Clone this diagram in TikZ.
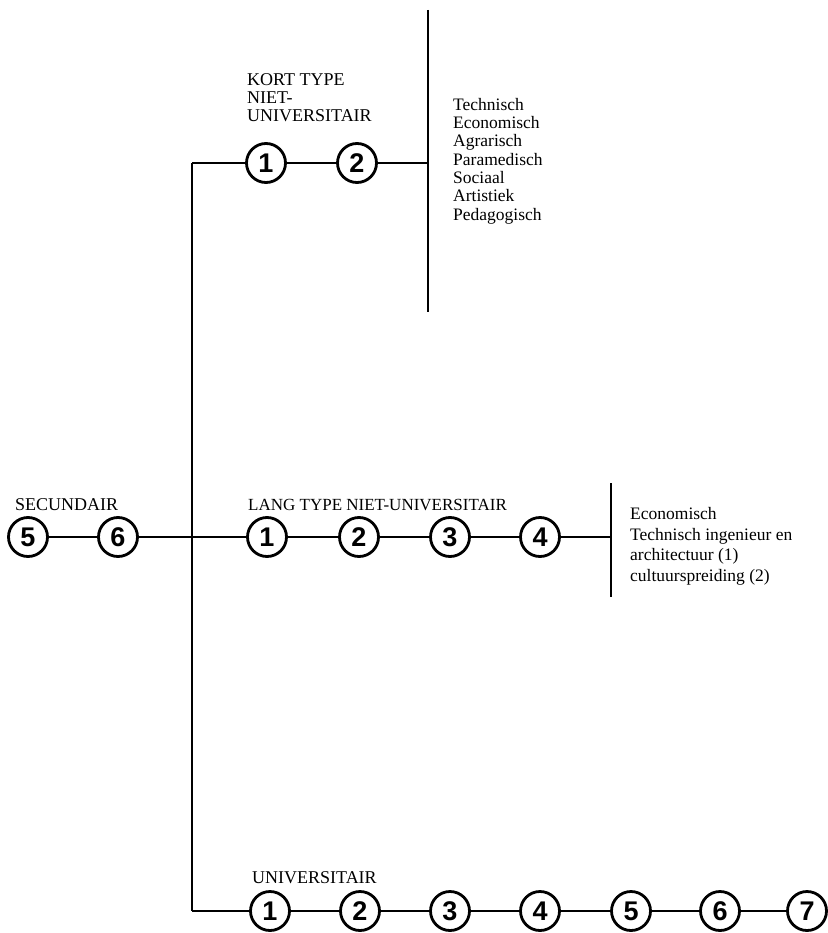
\documentclass[tikz,border=0pt]{standalone}
\usepackage{fontspec}
\setmainfont{Liberation Serif}
\newfontfamily\numfont{Liberation Sans}
\begin{document}
\begin{tikzpicture}[x=1pt,y=-1pt,
  num/.style={circle,draw,line width=2.8pt,minimum size=39pt,inner sep=0pt,font=\numfont\bfseries\fontsize{27}{27}\selectfont},
  conn/.style={line width=2pt},
  trunk/.style={line width=1.6pt},
  thinline/.style={line width=1.2pt},
  lbl/.style={anchor=west,inner sep=0pt,font=\fontsize{18}{18}\selectfont},
  lst/.style={anchor=north west,inner sep=0pt,align=left,font=\fontsize{17.5}{18.3}\selectfont}]
\useasboundingbox[fill=white] (0,0) rectangle (827,933);

% trunk
\coordinate (kc) at (192,163);
\coordinate (sj) at (192,537);
\coordinate (uc) at (192,911);
\draw[trunk] (kc) -- (uc);

% kort type
\node[num] (k1) at (266,163) {1};
\node[num] (k2) at (357,163) {2};
\coordinate (kj) at (428,163);
\coordinate (kt) at (428,10);
\coordinate (kb) at (428,312);
\draw[conn] (kc) -- (k1) (k1) -- (k2) (k2) -- (kj);
\draw[thinline] (kt) -- (kb);
\node[lst,font=\fontsize{18}{18}\selectfont] (klab) at (247,73) {KORT TYPE\\NIET-\\UNIVERSITAIR};
\node[lst] (klist) at (453,98) {Technisch\\Economisch\\Agrarisch\\Paramedisch\\Sociaal\\Artistiek\\Pedagogisch};

% secundair + lang type
\node[num] (s5) at (28,537) {5};
\node[num] (s6) at (118,537) {6};
\node[lbl] (slab) at (15,505) {SECUNDAIR};
\node[num] (l1) at (267,537) {1};
\node[num] (l2) at (359,537) {2};
\node[num] (l3) at (450,537) {3};
\node[num] (l4) at (540,537) {4};
\coordinate (lj) at (611,537);
\coordinate (lt) at (611,483);
\coordinate (lb) at (611,597);
\draw[conn] (s5) -- (s6) (s6) -- (l1) (l1) -- (l2) (l2) -- (l3) (l3) -- (l4) (l4) -- (lj);
\draw[thinline] (lt) -- (lb);
\node[lbl,font=\fontsize{17}{17}\selectfont] (llab) at (248,505) {LANG TYPE NIET-UNIVERSITAIR};
\node[lst,font=\fontsize{17.5}{20.8}\selectfont] (llist) at (630,507) {Economisch\\Technisch ingenieur en\\architectuur (1)\\cultuurspreiding (2)};

% universitair
\node[num] (u1) at (270,911) {1};
\node[num] (u2) at (360,911) {2};
\node[num] (u3) at (450,911) {3};
\node[num] (u4) at (540,911) {4};
\node[num] (u5) at (631,911) {5};
\node[num] (u6) at (720,911) {6};
\node[num] (u7) at (807,911) {7};
\draw[conn] (uc) -- (u1) (u1) -- (u2) (u2) -- (u3) (u3) -- (u4) (u4) -- (u5) (u5) -- (u6) (u6) -- (u7);
\node[lbl] (ulab) at (252,878) {UNIVERSITAIR};
\end{tikzpicture}
\end{document}
